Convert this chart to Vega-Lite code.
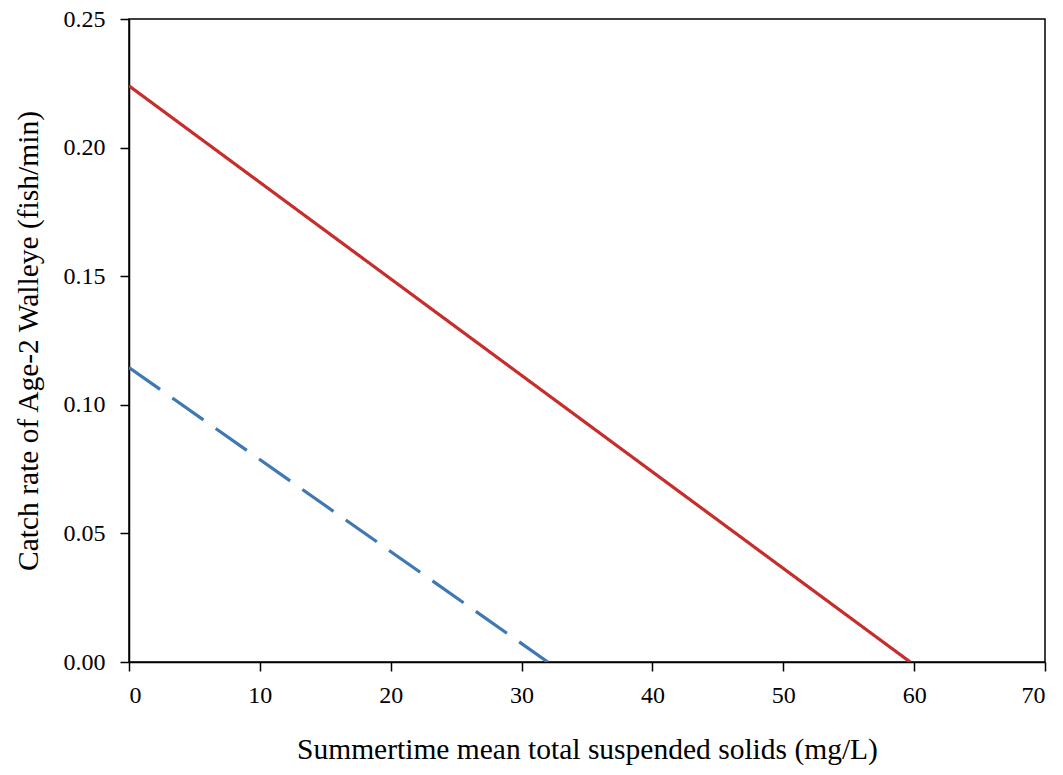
{
  "$schema": "https://vega.github.io/schema/vega-lite/v6.json",
  "width": 916,
  "height": 643,
  "autosize": {"type": "none"},
  "padding": {"left": 129, "top": 19, "right": 18, "bottom": 113},
  "background": "white",
  "config": {
    "view": {"stroke": "black", "strokeWidth": 1.5},
    "font": "Liberation Serif",
    "axis": {
      "grid": false,
      "domainColor": "black",
      "domainWidth": 1.5,
      "tickColor": "black",
      "tickWidth": 1.5,
      "tickSize": 9,
      "labelFont": "Liberation Serif",
      "labelFontSize": 24,
      "labelColor": "black",
      "titleFont": "Liberation Serif",
      "titleFontSize": 29.5,
      "titleFontWeight": "normal",
      "titleColor": "black"
    }
  },
  "data": {
    "values": [
      {"series": "A", "tss": 0, "rate": 0.224},
      {"series": "A", "tss": 59.7, "rate": 0},
      {"series": "B", "tss": 0, "rate": 0.1145},
      {"series": "B", "tss": 32.0, "rate": 0}
    ]
  },
  "mark": {"type": "line", "strokeWidth": 3.2, "clip": true},
  "encoding": {
    "x": {
      "field": "tss",
      "type": "quantitative",
      "scale": {"domain": [0, 70], "nice": false, "zero": false},
      "axis": {
        "values": [0, 10, 20, 30, 40, 50, 60, 70],
        "labelPadding": 12,
        "title": "Summertime mean total suspended solids (mg/L)",
        "titlePadding": 28
      }
    },
    "y": {
      "field": "rate",
      "type": "quantitative",
      "scale": {"domain": [0, 0.25], "nice": false},
      "axis": {
        "values": [0, 0.05, 0.1, 0.15, 0.2, 0.25],
        "format": ".2f",
        "labelPadding": 15,
        "title": "Catch rate of Age-2 Walleye (fish/min)",
        "titlePadding": 20
      }
    },
    "color": {
      "field": "series",
      "type": "nominal",
      "scale": {"domain": ["A", "B"], "range": ["#c62d2b", "#3f78b2"]},
      "legend": null
    },
    "strokeDash": {
      "field": "series",
      "type": "nominal",
      "scale": {"domain": ["A", "B"], "range": [[1, 0], [38, 15]]},
      "legend": null
    }
  }
}
